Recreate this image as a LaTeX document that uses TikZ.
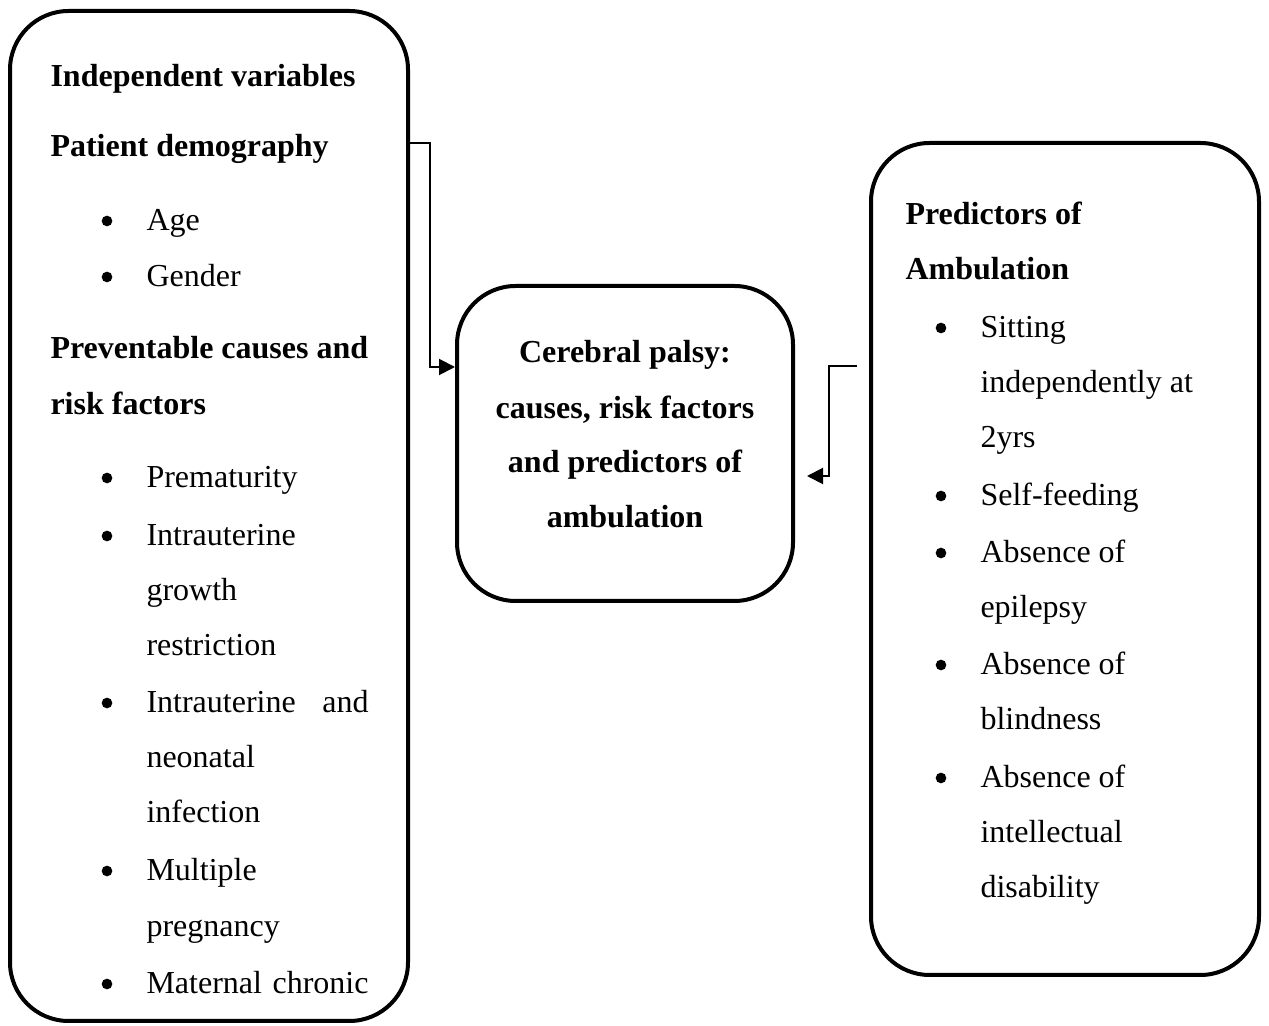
\documentclass[tikz,border=0pt]{standalone}
\usepackage{fontspec}
\setmainfont{Liberation Serif}
\usetikzlibrary{arrows.meta}
\newcommand{\figurescale}{0.375pt}
% bullet item: name, x, baseline, text
\newcommand{\bulletline}[4]{
	\node[bul] (#1b) at (#2-39,#3-10) {};
	\node[txt] (#1) at (#2,#3) {#4};
}
\tikzset{
	box/.style={draw, line width=1.5pt, rounded corners=22pt, inner sep=0pt},
	txt/.style={anchor=base west, inner sep=0pt, font=\fontsize{12}{14}\selectfont},
	head/.style={txt, font=\fontsize{12}{14}\selectfont\bfseries},
	mid/.style={anchor=base, inner sep=0pt, font=\fontsize{12}{14}\selectfont\bfseries},
	bul/.style={circle, fill, inner sep=0pt, minimum size=4pt},
	link/.style={line width=0.75pt, -{Triangle[length=6pt,width=6pt]}}
}
\begin{document}
\begin{tikzpicture}[x=\figurescale,y=-\figurescale]
	\useasboundingbox (0,0) rectangle (1269,1026);

	% the three boxes
	\node[box, minimum width=149.25pt, minimum height=378.75pt] (indep) at (209,516) {};
	\node[box, minimum width=126pt, minimum height=118.125pt] (ctr) at (625,443.5) {};
	\node[box, minimum width=145.5pt, minimum height=312pt] (pred) at (1065,559) {};

	% left box
	\node[head] (iv) at (50,87) {Independent variables};
	\node[head] (pd) at (50,157) {Patient demography};
	\bulletline{age}{146}{231}{Age}
	\bulletline{gen}{146}{287}{Gender}
	\node[head] (pc1) at (50,359) {Preventable causes and};
	\node[head] (pc2) at (50,415) {risk factors};
	\bulletline{prem}{146}{488}{Prematurity}
	\bulletline{iugr}{146}{546}{Intrauterine}
	\node[txt] (iugr2) at (146,601) {growth};
	\node[txt] (iugr3) at (146,656) {restriction};
	\bulletline{inf}{146}{713}{\makebox[83.25pt][s]{Intrauterine\hfill and}}
	\node[txt] (inf2) at (146,768) {neonatal};
	\node[txt] (inf3) at (146,823) {infection};
	\bulletline{mult}{146}{881}{Multiple}
	\node[txt] (mult2) at (146,937) {pregnancy};
	\bulletline{mat}{146}{994}{\makebox[83.25pt][s]{Maternal\hfill chronic}}

	% centre box
	\node[mid] (c1) at (625,363) {Cerebral palsy:};
	\node[mid] (c2) at (625,419) {causes, risk factors};
	\node[mid] (c3) at (625,473) {and predictors of};
	\node[mid] (c4) at (625,528) {ambulation};

	% right box
	\node[head] (p1) at (905,225) {Predictors of};
	\node[head] (p2) at (905,280) {Ambulation};
	\bulletline{sit}{980}{338}{Sitting}
	\node[txt] (sit2) at (980,393) {independently at};
	\node[txt] (sit3) at (980,448) {2yrs};
	\bulletline{self}{980}{506}{Self-feeding}
	\bulletline{epi}{980}{563}{Absence of}
	\node[txt] (epi2) at (980,618) {epilepsy};
	\bulletline{bli}{980}{675}{Absence of}
	\node[txt] (bli2) at (980,730) {blindness};
	\bulletline{intl}{980}{788}{Absence of}
	\node[txt] (intl2) at (980,843) {intellectual};
	\node[txt] (intl3) at (980,898) {disability};

	% connectors
	\coordinate (ltop) at (430,143);
	\coordinate (lbot) at (430,367);
	\draw[link] (indep.east |- ltop) -- (ltop) -- (lbot) -- (ctr.west |- lbot);
	\coordinate (rfree) at (857,366);
	\coordinate (rbot) at (829,476);
	\draw[link, shorten >=4.5pt] (rfree) -| (rbot) -- (ctr.east |- rbot);

\end{tikzpicture}
\end{document}
